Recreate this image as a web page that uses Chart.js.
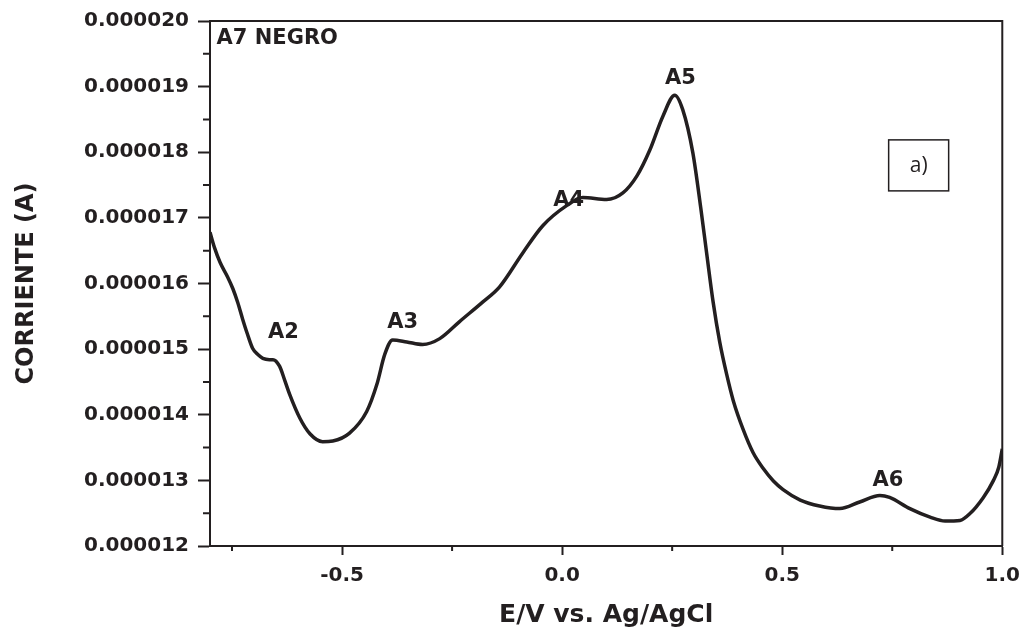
<!DOCTYPE html>
<html>
<head>
<meta charset="utf-8">
<script src="https://cdn.jsdelivr.net/npm/chart.js@4.4.1/dist/chart.umd.min.js"></script>
<style>
    html, body { margin: 0; padding: 0; background: #ffffff; }
    #wrap { width: 1029px; height: 636px; }
</style>
</head>
<body>
<div id="wrap"><canvas id="myChart" width="1029" height="636"></canvas></div>
<script>
// potential (V vs Ag/AgCl) and current (x 1e-6 A)
var potential = [
    -0.800, -0.790, -0.777, -0.760, -0.748, -0.737, -0.726, -0.715, -0.703, -0.690,
    -0.680, -0.665, -0.657, -0.642, -0.630, -0.619, -0.596, -0.573, -0.544, -0.521,
    -0.483, -0.444, -0.421, -0.403, -0.385, -0.353, -0.317, -0.278, -0.233, -0.180,
    -0.142, -0.089, -0.044, 0.011, 0.047, 0.101, 0.138, 0.170, 0.199, 0.229,
    0.256, 0.274, 0.297, 0.315, 0.328, 0.343, 0.358, 0.374, 0.389, 0.411,
    0.434, 0.457, 0.480, 0.502, 0.541, 0.585, 0.631, 0.676, 0.722, 0.744,
    0.790, 0.836, 0.870, 0.904, 0.926, 0.957, 0.980, 0.992, 1.000
];
var currentMicroA = [
    16.78, 16.55, 16.32, 16.10, 15.92, 15.71, 15.46, 15.23, 15.01, 14.91,
    14.86, 14.84, 14.84, 14.74, 14.52, 14.31, 13.95, 13.71, 13.59, 13.60,
    13.72, 14.05, 14.46, 14.92, 15.14, 15.11, 15.07, 15.16, 15.42, 15.72,
    15.95, 16.47, 16.88, 17.19, 17.31, 17.28, 17.38, 17.64, 18.03, 18.55,
    18.87, 18.65, 17.99, 17.15, 16.48, 15.72, 15.11, 14.61, 14.21, 13.78,
    13.42, 13.18, 12.99, 12.86, 12.70, 12.61, 12.57, 12.67, 12.77, 12.74,
    12.57, 12.44, 12.38, 12.39, 12.49, 12.74, 13.00, 13.20, 13.48
];

var xTickValues = [-0.5, 0.0, 0.5, 1.0];
var xMinorTicks = [-0.75, -0.25, 0.25, 0.75];
var yTickValues = [12, 13, 14, 15, 16, 17, 18, 19, 20];
var yMinorTicks = [12.5, 13.5, 14.5, 15.5, 16.5, 17.5, 18.5, 19.5];

var peakLabels = ['A2', 'A3', 'A4', 'A5', 'A6'];
var peakLabelX = [-0.633, -0.362, 0.015, 0.269, 0.740];
var peakLabelY = [15.26, 15.40, 17.26, 19.12, 13.00];

var ink = '#231f20';
var boldFont = '"DejaVu Sans", "Liberation Sans", Arial, sans-serif';

var points = potential.map(function (v, i) {
    return { x: v, y: currentMicroA[i] * 1e-6 };
});

// minor ticks, top/right frame, peak names and the "a)" box
var extras = {
    id: 'extras',
    afterDraw: function (chart) {
        var ctx = chart.ctx;
        var area = chart.chartArea;
        var xs = chart.scales.x;
        var ys = chart.scales.y;

        ctx.save();
        ctx.strokeStyle = ink;
        ctx.lineWidth = 2;
        ctx.beginPath();
        ctx.moveTo(area.left, area.top);
        ctx.lineTo(area.right, area.top);
        ctx.lineTo(area.right, area.bottom);
        ctx.stroke();

        ctx.beginPath();
        xMinorTicks.forEach(function (v) {
            var px = xs.getPixelForValue(v);
            ctx.moveTo(px, area.bottom);
            ctx.lineTo(px, area.bottom + 5);
        });
        yMinorTicks.forEach(function (v) {
            var py = ys.getPixelForValue(v * 1e-6);
            ctx.moveTo(area.left, py);
            ctx.lineTo(area.left - 7, py);
        });
        ctx.stroke();

        ctx.fillStyle = ink;
        ctx.font = 'bold 21px ' + boldFont;
        ctx.textBaseline = 'middle';
        ctx.textAlign = 'left';
        ctx.fillText('A7 NEGRO', xs.getPixelForValue(-0.785), ys.getPixelForValue(19.735e-6));

        ctx.textAlign = 'center';
        peakLabels.forEach(function (name, i) {
            ctx.fillText(name, xs.getPixelForValue(peakLabelX[i]), ys.getPixelForValue(peakLabelY[i] * 1e-6));
        });

        var bx = xs.getPixelForValue(0.810);
        var by = ys.getPixelForValue(17.80e-6);
        ctx.lineWidth = 1.5;
        ctx.strokeRect(bx - 30, by - 25.5, 60, 51);
        ctx.font = '21px "Open Sans", "Noto Sans", sans-serif';
        ctx.fillText('a)', bx, by + 1);
        ctx.restore();
    }
};

var ctx = document.getElementById('myChart').getContext('2d');
var myChart = new Chart(ctx, {
    type: 'line',
    data: {
        datasets: [{
            data: points,
            borderColor: ink,
            borderWidth: 3.5,
            pointRadius: 0,
            fill: false,
            cubicInterpolationMode: 'monotone'
        }]
    },
    options: {
        responsive: false,
        animation: false,
        layout: {
            padding: { top: 17, right: 26, left: 0, bottom: 0 }
        },
        plugins: {
            legend: { display: false },
            tooltip: { enabled: false }
        },
        scales: {
            x: {
                type: 'linear',
                min: -0.8,
                max: 1.0,
                afterBuildTicks: function (axis) {
                    axis.ticks = xTickValues.map(function (v) { return { value: v }; });
                },
                afterFit: function (axis) {
                    axis.height = 90;
                },
                grid: {
                    drawOnChartArea: false,
                    tickLength: 9,
                    tickWidth: 2,
                    tickColor: ink
                },
                border: { color: ink, width: 2 },
                ticks: {
                    color: ink,
                    padding: 9,
                    maxRotation: 0,
                    font: { family: boldFont, size: 20, weight: 'bold' },
                    callback: function (value) { return value.toFixed(1); }
                },
                title: {
                    display: true,
                    text: 'E/V vs. Ag/AgCl',
                    color: ink,
                    font: { family: boldFont, size: 25, weight: 'bold' },
                    padding: { top: 0, bottom: 6 }
                }
            },
            y: {
                min: 12e-6,
                max: 20e-6,
                afterBuildTicks: function (axis) {
                    axis.ticks = yTickValues.map(function (v) { return { value: v * 1e-6 }; });
                },
                afterFit: function (axis) {
                    axis.width = 210;
                },
                grid: {
                    drawOnChartArea: false,
                    tickLength: 12,
                    tickWidth: 2,
                    tickColor: ink
                },
                border: { color: ink, width: 2 },
                ticks: {
                    color: ink,
                    padding: 9,
                    font: { family: boldFont, size: 20, weight: 'bold' },
                    callback: function (value) { return value.toFixed(6); }
                },
                title: {
                    display: true,
                    text: 'CORRIENTE (A)',
                    color: ink,
                    font: { family: boldFont, size: 24, weight: 'bold' },
                    padding: { top: 12, bottom: 0 }
                }
            }
        }
    },
    plugins: [extras]
});
</script>
</body>
</html>
